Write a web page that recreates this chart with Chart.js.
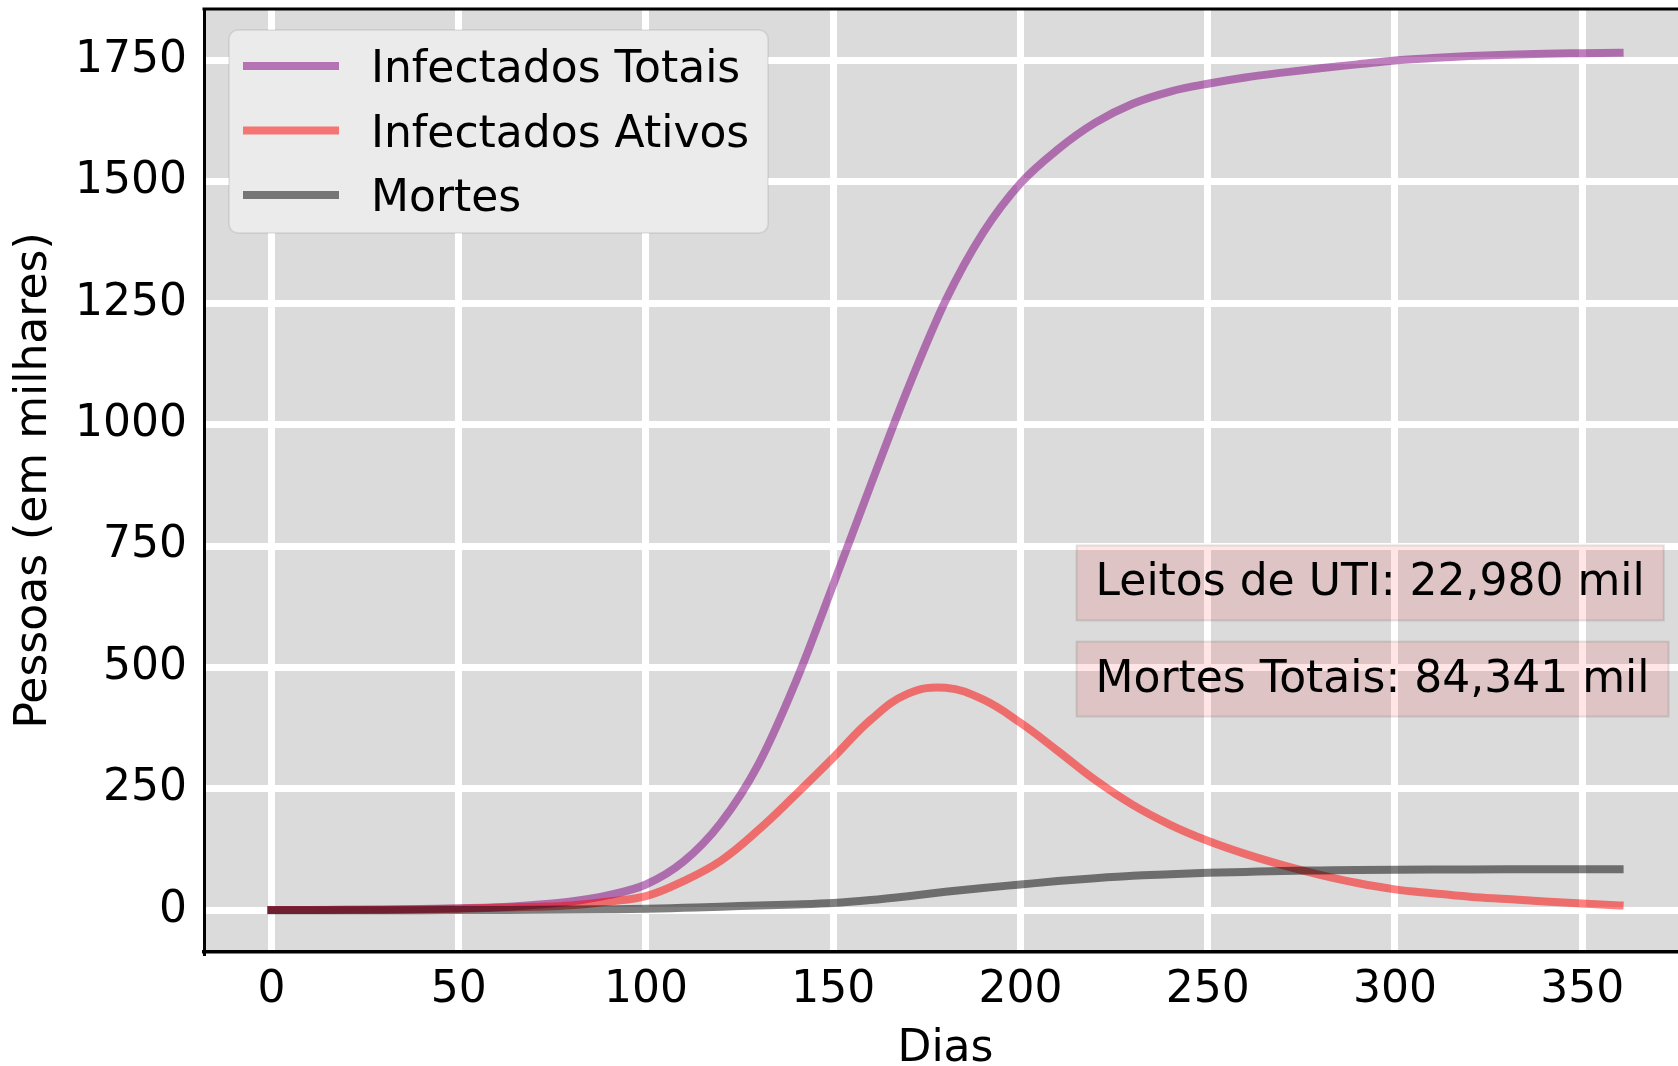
<!DOCTYPE html>
<html>
<head>
<meta charset="utf-8">
<title>Projeção de casos</title>
<script src="https://cdn.jsdelivr.net/npm/chart.js@4.4.1/dist/chart.umd.min.js"></script>
<style>
  html, body { margin: 0; padding: 0; background: #fff; overflow: hidden; }
  #wrap { position: absolute; left: 0; top: 0; width: 1700px; height: 1066px; }
</style>
</head>
<body>
<div id="wrap"><canvas id="grafico" width="1700" height="1066"></canvas></div>
<script>
// dias simulados (amostra a cada 10 dias)
var dias = [0, 10, 20, 30, 40, 50, 60, 70, 80, 90, 100, 110, 120, 130, 140, 150, 160, 170, 180,
            190, 200, 210, 220, 230, 240, 250, 260, 270, 280, 290, 300, 310, 320, 330, 340, 350, 360];

// valores em milhares
var infectadosTotais = [0.5, 0.7, 1, 1.5, 2.5, 4, 6, 11, 18, 31, 53, 100, 180, 300, 470, 670, 875, 1075, 1255,
                        1395, 1497, 1567, 1622, 1661, 1686, 1702, 1715, 1725, 1734, 1742, 1750, 1755, 1759, 1762, 1764, 1765, 1766];
var infectadosAtivos = [0.3, 0.5, 0.8, 1.2, 2, 3, 5, 7, 10, 18, 29, 60, 102, 165, 238, 314, 392, 446, 458,
                        434, 386, 328, 268, 217, 176, 143, 116, 93, 73, 56, 43, 35, 28, 23, 18, 14, 10];
var mortes = [0, 0, 0.1, 0.1, 0.2, 0.3, 0.5, 0.8, 1.3, 2, 3, 5, 7, 10, 12, 15, 21, 29, 38,
              46, 53, 60, 66, 71, 74, 77, 79, 81, 82, 83, 83.6, 84, 84.1, 84.2, 84.3, 84.3, 84.34];

var xTicks = [0, 50, 100, 150, 200, 250, 300, 350];
var yTicks = [0, 250, 500, 750, 1000, 1250, 1500, 1750];

// caixas de texto (posição em dias / milhares)
var notas = ['Leitos de UTI: 22,980 mil', 'Mortes Totais: 84,341 mil'];
var notaX = [215, 215];
var notaY = [674, 476];

var FONTE = "'DejaVu Sans', sans-serif";

function serie(valores) {
  return dias.map(function (d, i) { return { x: d, y: valores[i] }; });
}

// fundo cinza, moldura de cima, legenda e caixas de anotação
var decoracao = {
  id: 'decoracao',
  beforeDraw: function (chart) {
    var a = chart.chartArea, ctx = chart.ctx;
    ctx.save();
    ctx.fillStyle = '#dbdbdb';
    ctx.fillRect(a.left, a.top, a.right - a.left, a.bottom - a.top);
    ctx.restore();
  },
  afterDatasetsDraw: function (chart) {
    var a = chart.chartArea, ctx = chart.ctx;
    var sx = chart.scales.x, sy = chart.scales.y;
    ctx.save();

    // linha de cima da moldura
    ctx.strokeStyle = '#000';
    ctx.lineWidth = 3;
    ctx.beginPath();
    ctx.moveTo(a.left - 1.5, a.top);
    ctx.lineTo(a.right, a.top);
    ctx.stroke();

    // anotações
    ctx.font = '44px ' + FONTE;
    ctx.textBaseline = 'middle';
    ctx.textAlign = 'left';
    notas.forEach(function (txt, i) {
      var x0 = sx.getPixelForValue(notaX[i]);
      var yc = sy.getPixelForValue(notaY[i]);
      var w = ctx.measureText(txt).width + 38;
      var h = 75;
      ctx.fillStyle = 'rgba(255,0,0,0.1)';
      ctx.fillRect(x0, yc - h / 2, w, h);
      ctx.strokeStyle = 'rgba(0,0,0,0.1)';
      ctx.lineWidth = 2;
      ctx.strokeRect(x0, yc - h / 2, w, h);
      ctx.fillStyle = '#000';
      ctx.fillText(txt, x0 + 19, yc + 1);
    });

    // legenda
    var lx = a.left + 25, ly = a.top + 21, lw = 539, lh = 203, r = 9;
    ctx.beginPath();
    ctx.moveTo(lx + r, ly);
    ctx.arcTo(lx + lw, ly, lx + lw, ly + lh, r);
    ctx.arcTo(lx + lw, ly + lh, lx, ly + lh, r);
    ctx.arcTo(lx, ly + lh, lx, ly, r);
    ctx.arcTo(lx, ly, lx + lw, ly, r);
    ctx.closePath();
    ctx.fillStyle = '#ebebeb';
    ctx.fill();
    ctx.strokeStyle = 'rgba(0,0,0,0.07)';
    ctx.lineWidth = 2;
    ctx.stroke();

    chart.data.datasets.forEach(function (ds, i) {
      var yy = ly + 36 + i * 64.5;
      ctx.strokeStyle = ds.borderColor;
      ctx.lineWidth = ds.borderWidth;
      ctx.lineCap = 'butt';
      ctx.beginPath();
      ctx.moveTo(lx + 14, yy);
      ctx.lineTo(lx + 110, yy);
      ctx.stroke();
      ctx.fillStyle = '#000';
      ctx.fillText(ds.label, lx + 142, yy + 5);
    });

    ctx.restore();
  }
};

var linhaBase = {
  pointRadius: 0,
  pointHoverRadius: 0,
  borderWidth: 8,
  cubicInterpolationMode: 'monotone',
  fill: false,
  borderCapStyle: 'square',
  borderJoinStyle: 'round'
};

new Chart(document.getElementById('grafico').getContext('2d'), {
  type: 'line',
  data: {
    datasets: [
      Object.assign({ label: 'Infectados Totais', data: serie(infectadosTotais), borderColor: 'rgba(128,0,128,0.5)', order: 3 }, linhaBase),
      // pico arredondado: curva cardinal em vez de monotônica
      Object.assign({}, linhaBase, { label: 'Infectados Ativos', data: serie(infectadosAtivos), borderColor: 'rgba(255,0,0,0.5)', order: 2,
                                     cubicInterpolationMode: 'default', tension: 0.4 }),
      Object.assign({ label: 'Mortes', data: serie(mortes), borderColor: 'rgba(0,0,0,0.5)', order: 1 }, linhaBase)
    ]
  },
  options: {
    responsive: false,
    animation: false,
    events: [],
    layout: { padding: { top: 9, right: 13, left: 0, bottom: 0 } },
    plugins: {
      legend: { display: false },
      tooltip: { enabled: false }
    },
    scales: {
      x: {
        type: 'linear',
        min: -18,
        max: 378,
        afterBuildTicks: function (s) { s.ticks = xTicks.map(function (v) { return { value: v }; }); },
        afterFit: function (s) { s.height = 114; s.paddingLeft = 0; s.paddingRight = 0; },
        grid: { color: '#fff', lineWidth: 7, drawTicks: false },
        border: { display: true, color: '#000', width: 3.5 },
        ticks: {
          padding: 12,
          color: '#000',
          font: { family: FONTE, size: 44 },
          maxRotation: 0,
          callback: function (v) { return String(v); }
        },
        title: {
          display: true,
          text: 'Dias',
          color: '#000',
          font: { family: FONTE, size: 44, lineHeight: 0.7 },
          padding: { top: 0, bottom: 1 }
        }
      },
      y: {
        type: 'linear',
        min: -86,
        max: 1856,
        afterBuildTicks: function (s) { s.ticks = yTicks.map(function (v) { return { value: v }; }); },
        afterFit: function (s) { s.width = 204; s.paddingTop = 0; s.paddingBottom = 0; },
        grid: { color: '#fff', lineWidth: 7, drawTicks: false },
        border: { display: true, color: '#000', width: 3 },
        ticks: {
          padding: 17,
          color: '#000',
          font: { family: FONTE, size: 44 },
          callback: function (v) { return String(v); }
        },
        title: {
          display: true,
          text: 'Pessoas (em milhares)',
          color: '#000',
          font: { family: FONTE, size: 44, lineHeight: 1.2 },
          padding: { top: 8, bottom: 0 }
        }
      }
    }
  },
  plugins: [decoracao]
});
</script>
</body>
</html>
